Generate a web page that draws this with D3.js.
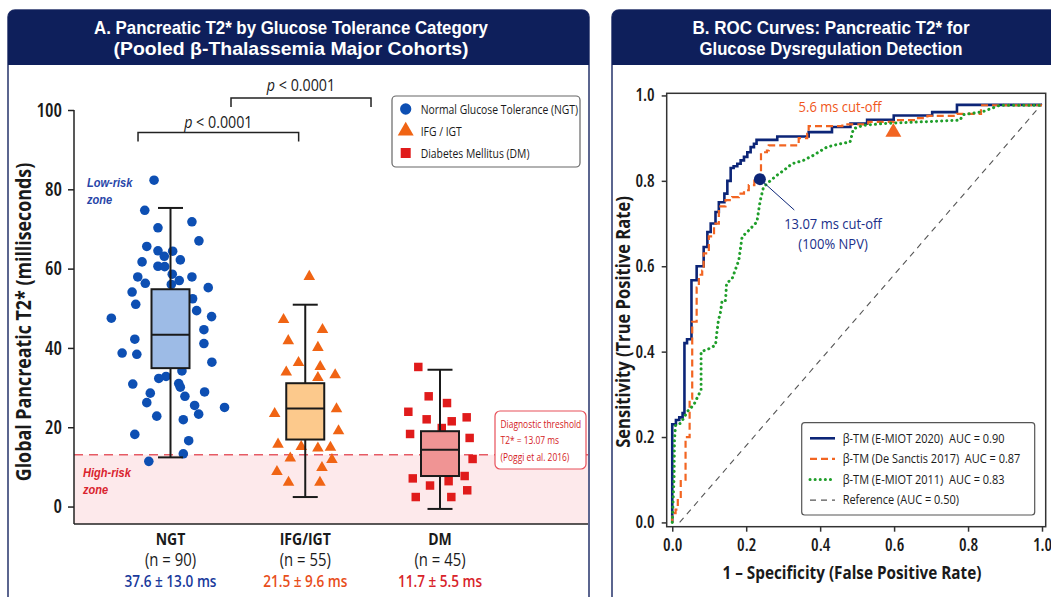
<!DOCTYPE html>
<html>
<head>
<meta charset="utf-8">
<script src="https://d3js.org/d3.v7.min.js"></script>
<style>
  body { margin: 0; background: #ffffff; }
  svg { font-family: "Open Sans", "Noto Sans", sans-serif; }
</style>
</head>
<body>
<div id="chart"></div>
<script>
// Step 1: data
// =================================
var categories = ["NGT", "IFG/IGT", "DM"];
var groupSizes = [90, 55, 45];
var meanLabels = ["37.6 ± 13.0 ms", "21.5 ± 9.6 ms", "11.7 ± 5.5 ms"];
var legendLabelsA = ["Normal Glucose Tolerance (NGT)", "IFG / IGT", "Diabetes Mellitus (DM)"];
// [lower whisker, q1, median, q3, upper whisker]
var boxStats = [
  [12.4, 34.9, 43.3, 54.8, 75.3],
  [2.4, 16.9, 24.7, 31.1, 50.9],
  [-0.6, 7.7, 14.3, 19.0, 34.5]
];
var yTicksA = [0, 20, 40, 60, 80, 100];
var threshold = 13.07;

// individual patients (value in ms) and their horizontal jitter (in category units)
var ngtValues = [82.3, 74.7, 70.3, 71.8, 67.0, 65.6, 64.5, 63.1, 64.4, 62.2, 61.7, 60.6, 60.5, 58.6, 57.9, 57.0,
  57.9, 56.3, 56.0, 55.2, 54.1, 51.0, 52.4, 49.4, 47.9, 47.5, 44.6, 42.2, 41.1, 38.7, 38.4, 36.4, 34.2, 32.8,
  32.3, 30.9, 31.0, 30.1, 28.6, 28.9, 27.8, 26.2, 25.5, 25.0, 23.3, 22.8, 21.9, 18.2, 16.6, 13.3, 11.4];
var ngtJitter = [-0.122, -0.191, -0.093, 0.159, 0.211, -0.176, -0.093, -0.046, 0.016, 0.073, -0.211, -0.093,
  -0.043, 0.013, -0.243, 0.065, 0.159, -0.187, 0.006, 0.28, -0.285, -0.258, 0.164, 0.194, 0.305, -0.439, 0.248,
  -0.265, 0.248, -0.359, -0.25, 0.307, 0.085, -0.033, -0.087, -0.28, 0.061, 0.073, -0.15, 0.253, 0.107, -0.176,
  0.179, 0.401, 0.209, -0.102, 0.095, -0.265, 0.135, 0.095, -0.161];
var ifgValues = [58.0, 47.1, 44.6, 41.8, 40.1, 36.3, 35.3, 33.9, 33.2, 32.5, 23.4, 24.6, 19.1, 15.7, 15.1, 14.7,
  14.9, 12.2, 11.8, 9.8, 8.8, 6.1, 6.1];
var ifgJitter = [0.03, -0.161, 0.128, -0.126, 0.094, -0.05, 0.111, -0.141, 0.222, 0.094, -0.227, 0.232, 0.247,
  -0.202, -0.03, 0.094, 0.187, -0.111, 0.198, 0.124, -0.21, -0.124, 0.109];
var dmValues = [35.2, 27.8, 26.1, 23.9, 22.0, 21.5, 22.5, 18.3, 17.3, 19.8, 12.0, 7.1, 7.7, 5.3, 6.4, 4.1, 2.4, 2.4];
var dmJitter = [-0.161, -0.084, 0.052, -0.235, -0.099, 0.087, 0.198, -0.222, 0.22, 0.013, 0.242, -0.202, 0.183,
  -0.074, 0.064, 0.202, -0.18, 0.084];

// ROC curves: false positive rate / true positive rate
var rocLabels = ["β-TM (E-MIOT 2020)  AUC = 0.90", "β-TM (De Sanctis 2017)  AUC = 0.87",
  "β-TM (E-MIOT 2011)  AUC = 0.83", "Reference (AUC = 0.50)"];
var fprE2020 = [0, 0, 0.01, 0.019, 0.028, 0.033, 0.04, 0.052, 0.066, 0.085, 0.095, 0.104, 0.117, 0.126, 0.141,
  0.149, 0.158, 0.166, 0.176, 0.185, 0.194, 0.203, 0.212, 0.221, 0.228, 0.284, 0.369, 0.432, 0.482, 0.527, 0.599,
  0.703, 0.77, 1.0];
var tprE2020 = [0, 0.23, 0.24, 0.246, 0.256, 0.42, 0.429, 0.567, 0.60, 0.645, 0.68, 0.70, 0.727, 0.75, 0.77,
  0.80, 0.83, 0.834, 0.84, 0.848, 0.856, 0.867, 0.879, 0.887, 0.896, 0.904, 0.914, 0.926, 0.934, 0.943, 0.953,
  0.961, 0.978, 0.978];
var fprDS2017 = [0, 0, 0.009, 0.015, 0.023, 0.036, 0.047, 0.054, 0.066, 0.072, 0.081, 0.085, 0.099, 0.113, 0.126,
  0.144, 0.162, 0.18, 0.194, 0.207, 0.222, 0.24, 0.256, 0.261, 0.338, 0.342, 0.365, 0.369, 0.46, 0.53, 0.60,
  0.66, 0.69, 0.77, 0.835, 1.0];
var tprDS2017 = [0, 0.022, 0.03, 0.057, 0.10, 0.20, 0.29, 0.47, 0.55, 0.58, 0.59, 0.63, 0.67, 0.70, 0.74,
  0.755, 0.762, 0.77, 0.778, 0.79, 0.80, 0.867, 0.871, 0.883, 0.887, 0.90, 0.91, 0.928, 0.932, 0.938, 0.942,
  0.947, 0.952, 0.957, 0.977, 0.977];
var fprE2011 = [0, 0.005, 0.006, 0.009, 0.022, 0.031, 0.041, 0.058, 0.072, 0.078, 0.078, 0.095, 0.117, 0.121,
  0.125, 0.13, 0.135, 0.144, 0.147, 0.162, 0.18, 0.189, 0.207, 0.229, 0.238, 0.247, 0.265, 0.283, 0.301, 0.324,
  0.355, 0.382, 0.418, 0.455, 0.481, 0.49, 0.517, 0.571, 0.67, 0.778, 0.787, 0.84, 0.886, 1.0];
var tprE2011 = [0, 0.108, 0.193, 0.228, 0.232, 0.244, 0.26, 0.275, 0.30, 0.31, 0.40, 0.405, 0.415, 0.447, 0.474,
  0.49, 0.52, 0.52, 0.56, 0.571, 0.614, 0.669, 0.684, 0.704, 0.754, 0.786, 0.80, 0.813, 0.824, 0.84, 0.848,
  0.86, 0.879, 0.887, 0.891, 0.922, 0.93, 0.934, 0.938, 0.942, 0.955, 0.962, 0.977, 0.977];
var refFpr = [0.02, 1.0];
var refTpr = [0, 0.98];
var cutoffHigh = { fpr: 0.237, tpr: 0.804, label: ["13.07 ms cut-off", "(100% NPV)"] };
var cutoffLow = { fpr: 0.598, tpr: 0.914, label: "5.6 ms cut-off" };
var rocTicks = [0, 0.2, 0.4, 0.6, 0.8, 1.0];

// colours
var navy = "#0e1f5b";
var catColors = ["#0d4fb3", "#f06414", "#e01b1b"];
var boxFills = ["#9dbbe6", "#fcc98c", "#f09494"];
var statColors = ["#1a3a9c", "#e84e1b", "#d8232a"];

// Step 2: svg, helpers and panels
// =================================
var svg = d3.select("#chart")
  .append("svg")
  .attr("width", 1051)
  .attr("height", 597);

// the source uses a narrow font, so squeeze every label a bit horizontally
var squeeze = 0.85;
function addText(parent, x, y, str, size, weight, color, anchor, rotate) {
  return parent.append("text")
    .attr("transform", `translate(${x},${y})` + (rotate ? ` rotate(${rotate})` : "") + ` scale(${squeeze},1)`)
    .attr("text-anchor", anchor || "start")
    .attr("font-size", size + "px")
    .attr("font-weight", weight || 400)
    .attr("fill", color || "#1a1a1a")
    .text(str);
}

function drawPanel(x0, w, titleLines, titleWidths, cx) {
  svg.append("rect")
    .attr("x", x0).attr("y", 10).attr("width", w).attr("height", 620)
    .attr("rx", 7)
    .attr("fill", "#fff").attr("stroke", "#26336b").attr("stroke-width", 1.5);
  svg.append("rect")
    .attr("x", x0).attr("y", 10).attr("width", w).attr("height", 55)
    .attr("rx", 7).attr("fill", navy);
  svg.append("rect")
    .attr("x", x0).attr("y", 40).attr("width", w).attr("height", 25)
    .attr("fill", navy);
  titleLines.forEach(function(l, i) {
    svg.append("text")
      .attr("x", cx).attr("y", 34 + i * 21)
      .attr("text-anchor", "middle")
      .attr("font-family", "Liberation Sans, Arial, sans-serif")
      .attr("font-size", "18.5px").attr("font-weight", 700)
      .attr("fill", "#fff")
      .attr("textLength", titleWidths[i])
      .attr("lengthAdjust", "spacingAndGlyphs")
      .text(l);
  });
}
drawPanel(8, 581, ["A. Pancreatic T2* by Glucose Tolerance Category", "(Pooled β-Thalassemia Major Cohorts)"], [394, 355], 291);
drawPanel(612, 450, ["B. ROC Curves: Pancreatic T2* for", "Glucose Dysregulation Detection"], [277, 263], 831);

// Step 3: panel A scales
// =================================
var xA = d3.scaleLinear().domain([0, 2]).range([170.5, 440]);
var yA = d3.scaleLinear().domain([-4.4, 100]).range([524, 110]);
var plotLeft = 74, plotRight = 588;

var gA = svg.append("g");

// high-risk zone + threshold
gA.append("rect")
  .attr("x", plotLeft).attr("y", yA(threshold))
  .attr("width", plotRight - plotLeft).attr("height", yA(-4.4) - yA(threshold))
  .attr("fill", "#fde9eb");
gA.append("line")
  .attr("x1", plotLeft).attr("x2", plotRight)
  .attr("y1", yA(threshold)).attr("y2", yA(threshold))
  .attr("stroke", "#e65a64").attr("stroke-width", 1.5)
  .attr("stroke-dasharray", "9,6");

// axes
var leftAxis = d3.axisLeft(yA).tickValues(yTicksA).tickSize(6).tickPadding(6).tickSizeOuter(0);
var yAxisA = gA.append("g")
  .attr("transform", `translate(${plotLeft},0)`)
  .call(leftAxis);
yAxisA.select(".domain").remove();
yAxisA.selectAll("line").attr("stroke", "#222").attr("stroke-width", 1.5);
yAxisA.selectAll("text").attr("font-size", "19px").attr("font-weight", 600).attr("fill", "#1a1a1a")
  .attr("font-family", "Open Sans, sans-serif").style("font-stretch", "78%");
gA.append("line")
  .attr("x1", plotLeft).attr("x2", plotLeft)
  .attr("y1", yA(100)).attr("y2", yA(-4.4))
  .attr("stroke", "#222").attr("stroke-width", 1.5);
gA.append("line")
  .attr("x1", plotLeft).attr("x2", plotRight)
  .attr("y1", yA(-4.4)).attr("y2", yA(-4.4))
  .attr("stroke", "#222").attr("stroke-width", 1.5);

addText(gA, 25, 322, "Global Pancreatic T2* (milliseconds)", 21, 700, "#1a1a1a", "middle", -90)
  .attr("dominant-baseline", "middle");

// zone labels
["Low-risk", "zone"].forEach(function(t, i) {
  addText(gA, 87, 187 + i * 17, t, 13, 700, "#2845a8")
    .attr("font-family", "Liberation Sans, Arial, sans-serif").attr("font-style", "italic");
});
["High-risk", "zone"].forEach(function(t, i) {
  addText(gA, 83, 477 + i * 17, t, 13, 700, "#d9232e")
    .attr("font-family", "Liberation Sans, Arial, sans-serif").attr("font-style", "italic");
});

// Step 4: scatter points then boxes
// =================================
var symbolTypes = [d3.symbolCircle, d3.symbolTriangle, d3.symbolSquare];
var symbolSizes = [72, 58, 72];
var groups = [
  { values: ngtValues, jitter: ngtJitter },
  { values: ifgValues, jitter: ifgJitter },
  { values: dmValues, jitter: dmJitter }
];
groups.forEach(function(g, gi) {
  gA.selectAll(".pt" + gi)
    .data(g.values)
    .enter()
    .append("path")
    .attr("class", "pt" + gi)
    .attr("d", d3.symbol().type(symbolTypes[gi]).size(symbolSizes[gi]))
    .attr("transform", (d, i) => `translate(${xA(gi + g.jitter[i])},${yA(d)})`)
    .attr("fill", catColors[gi]);
});

var boxW = 38, capW = 25;
boxStats.forEach(function(s, i) {
  var cx = xA(i);
  var bg = gA.append("g").attr("stroke", "#1a1a1a").attr("stroke-width", 2);
  bg.append("line").attr("x1", cx).attr("x2", cx).attr("y1", yA(s[0])).attr("y2", yA(s[4]));
  bg.append("line").attr("x1", cx - capW / 2).attr("x2", cx + capW / 2).attr("y1", yA(s[0])).attr("y2", yA(s[0]));
  bg.append("line").attr("x1", cx - capW / 2).attr("x2", cx + capW / 2).attr("y1", yA(s[4])).attr("y2", yA(s[4]));
  bg.append("rect")
    .attr("x", cx - boxW / 2).attr("y", yA(s[3]))
    .attr("width", boxW).attr("height", yA(s[1]) - yA(s[3]))
    .attr("fill", boxFills[i]);
  bg.append("line").attr("x1", cx - boxW / 2).attr("x2", cx + boxW / 2).attr("y1", yA(s[2])).attr("y2", yA(s[2]));
});

// category labels under axis
categories.forEach(function(c, i) {
  var cx = xA(i);
  addText(gA, cx, 545, c, 16.5, 700, "#1a1a1a", "middle");
  addText(gA, cx, 566, `(n = ${groupSizes[i]})`, 17.5, 500, "#1a1a1a", "middle");
  addText(gA, cx, 587, meanLabels[i], 16, 600, statColors[i], "middle");
});

// significance brackets
function bracket(a, b, yv, drop, textY) {
  var y = yA(yv);
  gA.append("path")
    .attr("d", `M${xA(a)},${y + drop}V${y}H${xA(b)}V${y + drop}`)
    .attr("fill", "none").attr("stroke", "#222").attr("stroke-width", 1.5);
  var t = addText(gA, (xA(a) + xA(b)) / 2, textY, "", 16.8, 400, "#1a1a1a", "middle");
  t.append("tspan").attr("font-style", "italic").text("p");
  t.append("tspan").text(" < 0.0001");
}
bracket(-0.241, 0.951, 94.3, 9, 128);
bracket(0.449, 1.488, 103.0, 9, 91);

// legend A
var legA = gA.append("g");
legA.append("rect").attr("x", 392).attr("y", 96).attr("width", 188).attr("height", 71)
  .attr("rx", 4).attr("fill", "#fff").attr("stroke", "#666").attr("stroke-width", 1.2);
legendLabelsA.forEach(function(l, i) {
  legA.append("path")
    .attr("d", d3.symbol().type(symbolTypes[i]).size(i === 1 ? 110 : 100))
    .attr("transform", `translate(405.7,${109 + i * 22})`)
    .attr("fill", catColors[i]);
  addText(legA, 420.7, 113.5 + i * 22, l, 12.2, 500, "#1a1a1a");
});

// threshold annotation
gA.append("rect").attr("x", 495).attr("y", 411).attr("width", 91).attr("height", 58)
  .attr("rx", 5).attr("fill", "#fff").attr("stroke", "#e8505a").attr("stroke-width", 1.2);
["Diagnostic threshold", "T2* = 13.07 ms", "(Poggi et al. 2016)"].forEach(function(t, i) {
  addText(gA, 500.5, 428 + i * 16.4, t, 9.9, 400, "#d41a24");
});

// Step 5: panel B (ROC)
// =================================
var xB = d3.scaleLinear().domain([-0.015, 1.01]).range([666.7, 1045.7]);
var yB = d3.scaleLinear().domain([-0.01, 1.005]).range([526.7, 93.3]);
var gB = svg.append("g");

gB.append("rect")
  .attr("x", xB(-0.015)).attr("y", yB(1.005))
  .attr("width", xB(1.01) - xB(-0.015)).attr("height", yB(-0.01) - yB(1.005))
  .attr("fill", "#fff").attr("stroke", "#333").attr("stroke-width", 1.5);

var bottomAxisB = d3.axisBottom(xB).tickValues(rocTicks).tickFormat(d3.format(".1f")).tickSize(5).tickPadding(7).tickSizeOuter(0);
var leftAxisB = d3.axisLeft(yB).tickValues(rocTicks).tickFormat(d3.format(".1f")).tickSize(5).tickPadding(7).tickSizeOuter(0);
var xAxB = gB.append("g").attr("transform", `translate(0,${yB(-0.01)})`).call(bottomAxisB);
var yAxB = gB.append("g").attr("transform", `translate(${xB(-0.015)},0)`).call(leftAxisB);
[xAxB, yAxB].forEach(function(ax) {
  ax.select(".domain").remove();
  ax.selectAll("line").attr("stroke", "#333").attr("stroke-width", 1.5);
  ax.selectAll("text").attr("font-size", "17px").attr("font-weight", 600).attr("fill", "#1a1a1a")
    .attr("font-family", "Open Sans, sans-serif").style("font-stretch", "85%");
});

addText(gB, 852, 579, "1 – Specificity (False Positive Rate)", 18, 700, "#1a1a1a", "middle");
addText(gB, 625, 322, "Sensitivity (True Positive Rate)", 19.5, 700, "#1a1a1a", "middle", -90)
  .attr("dominant-baseline", "middle");

// lines
var rocStyles = [
  { color: "#0c2577", width: 2.6, dash: null, cap: "butt" },
  { color: "#f26522", width: 2.2, dash: "7,4", cap: "butt" },
  { color: "#1f9e2a", width: 3, dash: "0.1,5", cap: "round" },
  { color: "#555", width: 1.1, dash: "6,5", cap: "butt" }
];
var rocSeries = [
  { fpr: fprE2020, tpr: tprE2020, curve: d3.curveStepAfter },
  { fpr: fprDS2017, tpr: tprDS2017, curve: d3.curveStepAfter },
  { fpr: fprE2011, tpr: tprE2011, curve: d3.curveLinear },
  { fpr: refFpr, tpr: refTpr, curve: d3.curveLinear }
];
var drawOrder = [3, 0, 1, 2];
drawOrder.forEach(function(k) {
  var s = rocSeries[k];
  var line = d3.line()
    .x((d, i) => xB(s.fpr[i]))
    .y((d, i) => yB(s.tpr[i]))
    .curve(s.curve);
  gB.append("path")
    .attr("d", line(s.fpr))
    .attr("fill", "none")
    .attr("stroke", rocStyles[k].color)
    .attr("stroke-width", rocStyles[k].width)
    .attr("stroke-dasharray", rocStyles[k].dash)
    .attr("stroke-linecap", rocStyles[k].cap);
});

// cut-off markers
gB.append("line")
  .attr("x1", xB(cutoffHigh.fpr)).attr("y1", yB(cutoffHigh.tpr))
  .attr("x2", 794.3).attr("y2", 210)
  .attr("stroke", "#0c2577").attr("stroke-width", 1);
gB.append("circle")
  .attr("cx", xB(cutoffHigh.fpr)).attr("cy", yB(cutoffHigh.tpr)).attr("r", 6)
  .attr("fill", "#0c2577");
cutoffHigh.label.forEach(function(t, i) {
  addText(gB, 833, 229 + i * 20, t, 15.3, 500, "#1a2f8a", "middle");
});
gB.append("path")
  .attr("d", d3.symbol().type(d3.symbolTriangle).size(110))
  .attr("transform", `translate(${xB(cutoffLow.fpr)},${yB(cutoffLow.tpr)})`)
  .attr("fill", "#f26522");
addText(gB, 840, 112, cutoffLow.label, 15.3, 500, "#f0561a", "middle");

// legend B
var legB = gB.append("g");
legB.append("rect").attr("x", 801.7).attr("y", 422.7).attr("width", 233).attr("height", 92.3)
  .attr("rx", 3).attr("fill", "#fff").attr("stroke", "#555").attr("stroke-width", 1.2);
rocLabels.forEach(function(l, i) {
  var ly = 438.3 + i * 20.6;
  legB.append("line").attr("x1", 810).attr("x2", 835).attr("y1", ly).attr("y2", ly)
    .attr("stroke", rocStyles[i].color)
    .attr("stroke-width", rocStyles[i].width)
    .attr("stroke-dasharray", rocStyles[i].dash)
    .attr("stroke-linecap", rocStyles[i].cap);
  addText(legB, 842.7, ly + 4.3, l, 12.9, 400, "#1a1a1a").style("white-space", "pre");
});
</script>
</body>
</html>
